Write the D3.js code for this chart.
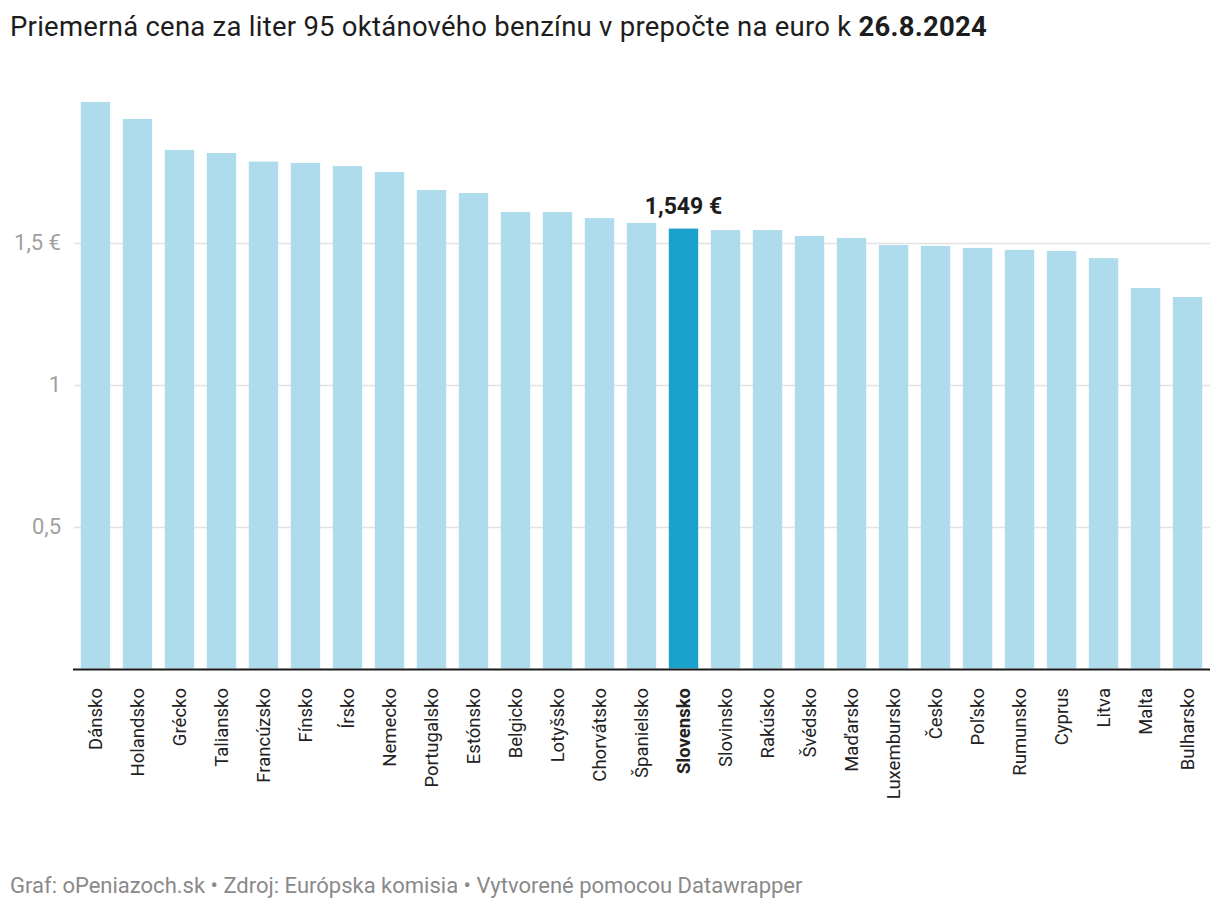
<!DOCTYPE html>
<html>
<head>
<meta charset="utf-8">
<script src="https://cdn.jsdelivr.net/npm/d3@7"></script>
<style>
  html, body { margin: 0; padding: 0; background: #fff; }
  svg { display: block; font-family: Roboto, "Noto Sans", sans-serif; }
</style>
</head>
<body>
<svg id="chart" width="1220" height="912"></svg>
<script>
const countries = ["Dánsko","Holandsko","Grécko","Taliansko","Francúzsko","Fínsko","Írsko","Nemecko","Portugalsko","Estónsko","Belgicko","Lotyšsko","Chorvátsko","Španielsko","Slovensko","Slovinsko","Rakúsko","Švédsko","Maďarsko","Luxembursko","Česko","Poľsko","Rumunsko","Cyprus","Litva","Malta","Bulharsko"];
const prices = [1.995,1.935,1.826,1.815,1.785,1.780,1.769,1.748,1.685,1.674,1.607,1.607,1.586,1.569,1.549,1.544,1.544,1.523,1.516,1.491,1.488,1.481,1.474,1.470,1.445,1.340,1.308];
const highlight = "Slovensko";
const yTicks = [0.5, 1, 1.5];
const yTickLabels = ["0,5", "1", "1,5 €"];
const titleText = "Priemerná cena za liter 95 oktánového benzínu v prepočte na euro k ";
const titleBold = "26.8.2024";
const footerText = "Graf: oPeniazoch.sk • Zdroj: Európska komisia • Vytvorené pomocou Datawrapper";

const svg = d3.select("#chart");
const left = 73, right = 1210, y0 = 668.5, yTop = 100.5;

const x = d3.scaleBand().domain(countries).range([left, right]).paddingInner(0.3).paddingOuter(0.185);
const y = d3.scaleLinear().domain([0, 2]).range([y0, yTop]);

// Title
const title = svg.append("text").attr("x", 10).attr("y", 36)
  .attr("font-size", 27.5).attr("letter-spacing", 0.25).attr("fill", "#1d1d1d");
title.append("tspan").text(titleText);
title.append("tspan").attr("font-weight", "bold").text(titleBold);

// Gridlines
svg.append("g").selectAll("line").data(yTicks).join("line")
  .attr("x1", left + 1).attr("x2", right)
  .attr("y1", d => Math.round(y(d)) + 0.5).attr("y2", d => Math.round(y(d)) + 0.5)
  .attr("stroke", "#e3e3e3").attr("stroke-width", 1.5);

// Y tick labels
svg.append("g").selectAll("text").data(yTicks).join("text")
  .attr("x", 61).attr("y", d => y(d))
  .attr("dy", "0.36em")
  .attr("text-anchor", "end")
  .attr("font-size", 22).attr("fill", "#a0a0a0")
  .text((d, i) => yTickLabels[i]);

// Bars
svg.append("g").selectAll("rect").data(countries).join("rect")
  .attr("x", d => x(d)).attr("width", x.bandwidth())
  .attr("y", (d, i) => y(prices[i]))
  .attr("height", (d, i) => y0 - y(prices[i]))
  .attr("fill", d => d === highlight ? "#1aa1cc" : "#aedcec");

// Baseline
svg.append("line").attr("x1", left).attr("x2", right)
  .attr("y1", y0 + 1).attr("y2", y0 + 1)
  .attr("stroke", "#1a1a1a").attr("stroke-width", 2);

// Highlight label
const hi = countries.indexOf(highlight);
svg.append("text")
  .attr("x", x(highlight) + x.bandwidth() / 2)
  .attr("y", y(prices[hi]) - 15)
  .attr("text-anchor", "middle")
  .attr("font-size", 23).attr("font-weight", "bold").attr("fill", "#1d1d1d")
  .text(d3.format(".3f")(prices[hi]).replace(".", ",") + " €");

// X labels
svg.append("g").selectAll("text").data(countries).join("text")
  .attr("transform", d => `translate(${x(d) + x.bandwidth() / 2},688) rotate(-90)`)
  .attr("text-anchor", "end")
  .attr("dy", "0.35em")
  .attr("font-size", 18.5)
  .attr("font-weight", d => d === highlight ? "bold" : "normal")
  .attr("fill", "#222")
  .text(d => d);

// Footer
svg.append("text").attr("x", 10).attr("y", 893)
  .attr("font-size", 22).attr("fill", "#8a8a8a")
  .text(footerText);
</script>
</body>
</html>
